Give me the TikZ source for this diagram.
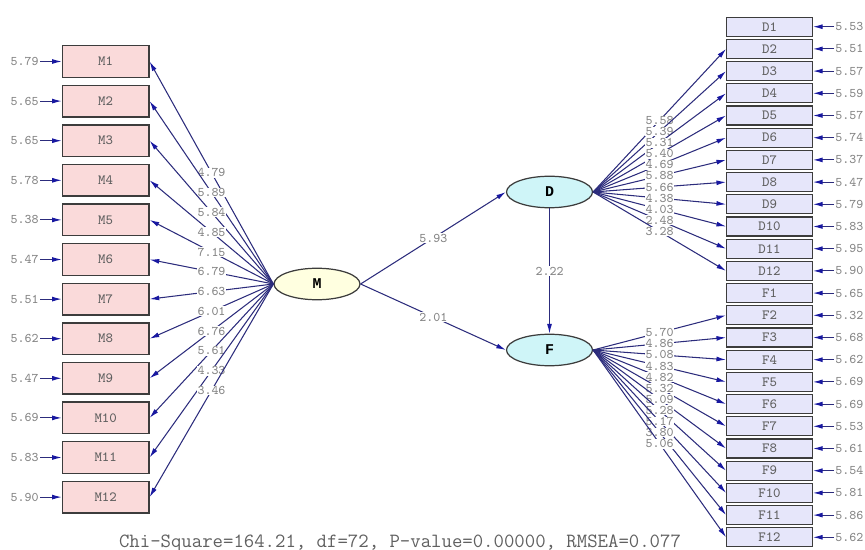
\documentclass[tikz,border=0pt]{standalone}
\usepackage{fontspec}
\newfontfamily\semboldfont{Liberation Mono}
\usepackage{tikz}
\usetikzlibrary{shapes.geometric,arrows.meta}
\definecolor{sempink}{HTML}{FADADA}
\definecolor{semlav}{HTML}{E6E6FA}
\definecolor{semyellow}{HTML}{FFFFE0}
\definecolor{semcyan}{HTML}{CFF5F8}
\definecolor{semnavy}{HTML}{2C2C7C}
\definecolor{semtip}{HTML}{1818A0}
\definecolor{semgray}{HTML}{858585}
\definecolor{semedge}{HTML}{3C3C3C}
\definecolor{semtext}{HTML}{606060}

\begin{document}
\begin{tikzpicture}[x=0.02cm,y=-0.02cm,
  mbox/.style={draw=semedge,fill=sempink,line width=0.75pt,minimum width=1.73cm,minimum height=0.63cm,inner sep=0pt,text=semtext,font=\ttfamily\fontsize{8}{9}\selectfont},
  dbox/.style={mbox,fill=semlav,minimum width=1.71cm,minimum height=0.38cm},
  latent/.style={ellipse,draw=semedge,line width=0.7pt,minimum width=1.72cm,minimum height=0.63cm,inner sep=0pt,font=\semboldfont\bfseries\fontsize{8.5}{9}\selectfont},
  errlab/.style={inner sep=0.6pt,text=semgray,font=\ttfamily\fontsize{7.5}{8}\selectfont},
  loadlab/.style={fill=white,inner sep=0.4pt,text=semgray,font=\ttfamily\fontsize{7.5}{8}\selectfont},
  semarrow/.style={draw=semnavy,line width=0.6pt,-{Latex[length=5.5pt,width=2.8pt,color=semtip]}}]
  \useasboundingbox (0,0) rectangle (865,550);

  \node[latent,fill=semyellow] (M) at (317,284) {M};
  \node[latent,fill=semcyan] (D) at (549.5,192) {D};
  \node[latent,fill=semcyan] (F) at (549.5,350) {F};

  \node[mbox] (M1) at (105.7,61.5) {M1};
  \node[mbox] (M2) at (105.7,101.1) {M2};
  \node[mbox] (M3) at (105.7,140.7) {M3};
  \node[mbox] (M4) at (105.7,180.3) {M4};
  \node[mbox] (M5) at (105.7,219.9) {M5};
  \node[mbox] (M6) at (105.7,259.5) {M6};
  \node[mbox] (M7) at (105.7,299.1) {M7};
  \node[mbox] (M8) at (105.7,338.7) {M8};
  \node[mbox] (M9) at (105.7,378.3) {M9};
  \node[mbox] (M10) at (105.7,417.9) {M10};
  \node[mbox] (M11) at (105.7,457.5) {M11};
  \node[mbox] (M12) at (105.7,497.1) {M12};

  \node[dbox] (D1) at (769.5,26.7) {D1};
  \node[dbox] (D2) at (769.5,48.9) {D2};
  \node[dbox] (D3) at (769.5,71.1) {D3};
  \node[dbox] (D4) at (769.5,93.3) {D4};
  \node[dbox] (D5) at (769.5,115.5) {D5};
  \node[dbox] (D6) at (769.5,137.7) {D6};
  \node[dbox] (D7) at (769.5,159.9) {D7};
  \node[dbox] (D8) at (769.5,182.1) {D8};
  \node[dbox] (D9) at (769.5,204.3) {D9};
  \node[dbox] (D10) at (769.5,226.5) {D10};
  \node[dbox] (D11) at (769.5,248.7) {D11};
  \node[dbox] (D12) at (769.5,270.9) {D12};
  \node[dbox] (F1) at (769.5,293.1) {F1};
  \node[dbox] (F2) at (769.5,315.3) {F2};
  \node[dbox] (F3) at (769.5,337.5) {F3};
  \node[dbox] (F4) at (769.5,359.7) {F4};
  \node[dbox] (F5) at (769.5,381.9) {F5};
  \node[dbox] (F6) at (769.5,404.1) {F6};
  \node[dbox] (F7) at (769.5,426.3) {F7};
  \node[dbox] (F8) at (769.5,448.5) {F8};
  \node[dbox] (F9) at (769.5,470.7) {F9};
  \node[dbox] (F10) at (769.5,492.9) {F10};
  \node[dbox] (F11) at (769.5,515.1) {F11};
  \node[dbox] (F12) at (769.5,537.3) {F12};

  \node[errlab,anchor=east] (eM1) at (40,61.5) {5.79};
  \node[errlab,anchor=east] (eM2) at (40,101.1) {5.65};
  \node[errlab,anchor=east] (eM3) at (40,140.7) {5.65};
  \node[errlab,anchor=east] (eM4) at (40,180.3) {5.78};
  \node[errlab,anchor=east] (eM5) at (40,219.9) {5.38};
  \node[errlab,anchor=east] (eM6) at (40,259.5) {5.47};
  \node[errlab,anchor=east] (eM7) at (40,299.1) {5.51};
  \node[errlab,anchor=east] (eM8) at (40,338.7) {5.62};
  \node[errlab,anchor=east] (eM9) at (40,378.3) {5.47};
  \node[errlab,anchor=east] (eM10) at (40,417.9) {5.69};
  \node[errlab,anchor=east] (eM11) at (40,457.5) {5.83};
  \node[errlab,anchor=east] (eM12) at (40,497.1) {5.90};

  \node[errlab,anchor=west] (eD1) at (834,26.7) {5.53};
  \node[errlab,anchor=west] (eD2) at (834,48.9) {5.51};
  \node[errlab,anchor=west] (eD3) at (834,71.1) {5.57};
  \node[errlab,anchor=west] (eD4) at (834,93.3) {5.59};
  \node[errlab,anchor=west] (eD5) at (834,115.5) {5.57};
  \node[errlab,anchor=west] (eD6) at (834,137.7) {5.74};
  \node[errlab,anchor=west] (eD7) at (834,159.9) {5.37};
  \node[errlab,anchor=west] (eD8) at (834,182.1) {5.47};
  \node[errlab,anchor=west] (eD9) at (834,204.3) {5.79};
  \node[errlab,anchor=west] (eD10) at (834,226.5) {5.83};
  \node[errlab,anchor=west] (eD11) at (834,248.7) {5.95};
  \node[errlab,anchor=west] (eD12) at (834,270.9) {5.90};
  \node[errlab,anchor=west] (eF1) at (834,293.1) {5.65};
  \node[errlab,anchor=west] (eF2) at (834,315.3) {5.32};
  \node[errlab,anchor=west] (eF3) at (834,337.5) {5.68};
  \node[errlab,anchor=west] (eF4) at (834,359.7) {5.62};
  \node[errlab,anchor=west] (eF5) at (834,381.9) {5.69};
  \node[errlab,anchor=west] (eF6) at (834,404.1) {5.69};
  \node[errlab,anchor=west] (eF7) at (834,426.3) {5.53};
  \node[errlab,anchor=west] (eF8) at (834,448.5) {5.61};
  \node[errlab,anchor=west] (eF9) at (834,470.7) {5.54};
  \node[errlab,anchor=west] (eF10) at (834,492.9) {5.81};
  \node[errlab,anchor=west] (eF11) at (834,515.1) {5.86};
  \node[errlab,anchor=west] (eF12) at (834,537.3) {5.62};

  \draw[semarrow] (eM1) -- (M1);
  \draw[semarrow] (eM2) -- (M2);
  \draw[semarrow] (eM3) -- (M3);
  \draw[semarrow] (eM4) -- (M4);
  \draw[semarrow] (eM5) -- (M5);
  \draw[semarrow] (eM6) -- (M6);
  \draw[semarrow] (eM7) -- (M7);
  \draw[semarrow] (eM8) -- (M8);
  \draw[semarrow] (eM9) -- (M9);
  \draw[semarrow] (eM10) -- (M10);
  \draw[semarrow] (eM11) -- (M11);
  \draw[semarrow] (eM12) -- (M12);

  \draw[semarrow] (eD1) -- (D1);
  \draw[semarrow] (eD2) -- (D2);
  \draw[semarrow] (eD3) -- (D3);
  \draw[semarrow] (eD4) -- (D4);
  \draw[semarrow] (eD5) -- (D5);
  \draw[semarrow] (eD6) -- (D6);
  \draw[semarrow] (eD7) -- (D7);
  \draw[semarrow] (eD8) -- (D8);
  \draw[semarrow] (eD9) -- (D9);
  \draw[semarrow] (eD10) -- (D10);
  \draw[semarrow] (eD11) -- (D11);
  \draw[semarrow] (eD12) -- (D12);
  \draw[semarrow] (eF1) -- (F1);
  \draw[semarrow] (eF2) -- (F2);
  \draw[semarrow] (eF3) -- (F3);
  \draw[semarrow] (eF4) -- (F4);
  \draw[semarrow] (eF5) -- (F5);
  \draw[semarrow] (eF6) -- (F6);
  \draw[semarrow] (eF7) -- (F7);
  \draw[semarrow] (eF8) -- (F8);
  \draw[semarrow] (eF9) -- (F9);
  \draw[semarrow] (eF10) -- (F10);
  \draw[semarrow] (eF11) -- (F11);
  \draw[semarrow] (eF12) -- (F12);

  \draw[semarrow] (M.west) -- node[loadlab] {4.79} (M1.east);
  \draw[semarrow] (M.west) -- node[loadlab] {5.89} (M2.east);
  \draw[semarrow] (M.west) -- node[loadlab] {5.84} (M3.east);
  \draw[semarrow] (M.west) -- node[loadlab] {4.85} (M4.east);
  \draw[semarrow] (M.west) -- node[loadlab] {7.15} (M5.east);
  \draw[semarrow] (M.west) -- node[loadlab] {6.79} (M6.east);
  \draw[semarrow] (M.west) -- node[loadlab] {6.63} (M7.east);
  \draw[semarrow] (M.west) -- node[loadlab] {6.01} (M8.east);
  \draw[semarrow] (M.west) -- node[loadlab] {6.76} (M9.east);
  \draw[semarrow] (M.west) -- node[loadlab] {5.61} (M10.east);
  \draw[semarrow] (M.west) -- node[loadlab] {4.33} (M11.east);
  \draw[semarrow] (M.west) -- node[loadlab] {3.46} (M12.east);

  \draw[semarrow] (D.east) -- node[loadlab] {5.58} (D2.west);
  \draw[semarrow] (D.east) -- node[loadlab] {5.39} (D3.west);
  \draw[semarrow] (D.east) -- node[loadlab] {5.31} (D4.west);
  \draw[semarrow] (D.east) -- node[loadlab] {5.40} (D5.west);
  \draw[semarrow] (D.east) -- node[loadlab] {4.69} (D6.west);
  \draw[semarrow] (D.east) -- node[loadlab] {5.88} (D7.west);
  \draw[semarrow] (D.east) -- node[loadlab] {5.66} (D8.west);
  \draw[semarrow] (D.east) -- node[loadlab] {4.38} (D9.west);
  \draw[semarrow] (D.east) -- node[loadlab] {4.03} (D10.west);
  \draw[semarrow] (D.east) -- node[loadlab] {2.48} (D11.west);
  \draw[semarrow] (D.east) -- node[loadlab] {3.28} (D12.west);

  \draw[semarrow] (F.east) -- node[loadlab] {5.70} (F2.west);
  \draw[semarrow] (F.east) -- node[loadlab] {4.86} (F3.west);
  \draw[semarrow] (F.east) -- node[loadlab] {5.08} (F4.west);
  \draw[semarrow] (F.east) -- node[loadlab] {4.83} (F5.west);
  \draw[semarrow] (F.east) -- node[loadlab] {4.82} (F6.west);
  \draw[semarrow] (F.east) -- node[loadlab] {5.32} (F7.west);
  \draw[semarrow] (F.east) -- node[loadlab] {5.09} (F8.west);
  \draw[semarrow] (F.east) -- node[loadlab] {5.28} (F9.west);
  \draw[semarrow] (F.east) -- node[loadlab] {5.17} (F10.west);
  \draw[semarrow] (F.east) -- node[loadlab] {3.80} (F11.west);
  \draw[semarrow] (F.east) -- node[loadlab] {5.06} (F12.west);

  \draw[semarrow] (M.east) -- node[loadlab] {5.93} (D.west);
  \draw[semarrow] (M.east) -- node[loadlab] {2.01} (F.west);
  \draw[semarrow] (D.south) -- node[loadlab] {2.22} (F.north);

  \node[font=\ttfamily\fontsize{11.5}{13}\selectfont,text=semtext] (fitstat) at (400,543) {Chi-Square=164.21, df=72, P-value=0.00000, RMSEA=0.077};
\end{tikzpicture}
\end{document}
